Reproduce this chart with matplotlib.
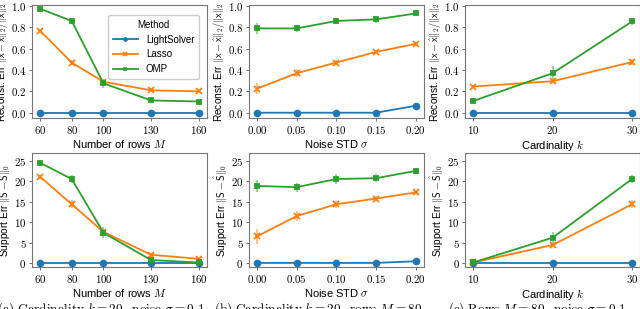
import numpy as np
import matplotlib
matplotlib.use("Agg")
import matplotlib.pyplot as plt

plt.rcParams['mathtext.fontset'] = 'cm'
plt.rcParams['font.family'] = ['Liberation Sans', 'DejaVu Sans']

methods = ['LightSolver', 'Lasso', 'OMP']
colors = ['#1f77b4', '#ff7f0e', '#2ca02c']
markers = ['o', 'x', 's']
msizes = [4.2, 4.5, 3.2]

rows_M = [60, 80, 100, 130, 160]
noise_sigma = [0.00, 0.05, 0.10, 0.15, 0.20]
card_k = [10, 20, 30]

# reconstruction error (top row)
rec_rows = {'LightSolver': [0, 0, 0, 0, 0],
            'Lasso': [0.77, 0.47, 0.29, 0.21, 0.20],
            'OMP': [0.975, 0.86, 0.275, 0.115, 0.105]}
rec_rows_err = {'LightSolver': [0, 0, 0, 0, 0],
                'Lasso': [0.01, 0.02, 0.01, 0.01, 0.01],
                'OMP': [0.005, 0.02, 0.04, 0.01, 0.005]}
rec_noise = {'LightSolver': [0, 0, 0, 0, 0.065],
             'Lasso': [0.225, 0.37, 0.47, 0.57, 0.645],
             'OMP': [0.79, 0.79, 0.86, 0.875, 0.93]}
rec_noise_err = {'LightSolver': [0, 0, 0, 0, 0.01],
                 'Lasso': [0.05, 0.035, 0.025, 0.015, 0.01],
                 'OMP': [0.05, 0.03, 0.025, 0.03, 0.008]}
rec_card = {'LightSolver': [0, 0, 0],
            'Lasso': [0.245, 0.295, 0.475],
            'OMP': [0.11, 0.37, 0.855]}
rec_card_err = {'LightSolver': [0, 0, 0],
                'Lasso': [0.01, 0.015, 0.025],
                'OMP': [0.01, 0.07, 0.035]}

# support error (bottom row)
sup_rows = {'LightSolver': [0, 0, 0, 0, 0],
            'Lasso': [21.2, 14.4, 7.6, 2.0, 1.0],
            'OMP': [24.6, 20.6, 7.4, 0.7, 0.1]}
sup_rows_err = {'LightSolver': [0, 0, 0, 0, 0],
                'Lasso': [0.5, 1.0, 0.7, 0.3, 0.2],
                'OMP': [0.4, 1.0, 1.3, 0.3, 0.1]}
sup_noise = {'LightSolver': [0, 0, 0, 0, 0.4],
             'Lasso': [6.5, 11.5, 14.4, 15.8, 17.3],
             'OMP': [18.9, 18.6, 20.6, 20.8, 22.6]}
sup_noise_err = {'LightSolver': [0, 0, 0, 0, 0.1],
                 'Lasso': [1.8, 1.3, 0.9, 0.7, 0.6],
                 'OMP': [1.5, 1.1, 1.2, 1.0, 0.8]}
sup_card = {'LightSolver': [0, 0, 0],
            'Lasso': [0.1, 4.4, 14.4],
            'OMP': [0.1, 6.2, 20.6]}
sup_card_err = {'LightSolver': [0, 0, 0],
                'Lasso': [0.1, 0.6, 1.0],
                'OMP': [0.1, 1.3, 1.0]}

xvals = [rows_M, noise_sigma, card_k]
xtick_labels = [['60', '80', '100', '130', '160'],
                ['0.00', '0.05', '0.10', '0.15', '0.20'],
                ['10', '20', '30']]
xlabels = [r'Number of rows $M$', r'Noise STD $\sigma$', r'Cardinality $k$']
top_data = [(rec_rows, rec_rows_err), (rec_noise, rec_noise_err), (rec_card, rec_card_err)]
bot_data = [(sup_rows, sup_rows_err), (sup_noise, sup_noise_err), (sup_card, sup_card_err)]
captions = [r'$\mathrm{(a)\ Cardinality}\ k=20,\ \mathrm{noise}\ \sigma=0.1$',
            r'$\mathrm{(b)\ Cardinality}\ k=20,\ \mathrm{rows}\ M=80$',
            r'$\mathrm{(c)\ Rows}\ M=80,\ \mathrm{noise}\ \sigma=0.1$']
caption_x = [0.158, 0.497, 0.84]

fig = plt.figure(figsize=(6.4, 3.09), dpi=100)
lefts = [0.050, 0.389, 0.727]
width = 0.273

for col in range(3):
    for row in range(2):
        if row == 0:
            ax = fig.add_axes([lefts[col], 0.618, width, 0.366])
            vals, errs = top_data[col]
        else:
            ax = fig.add_axes([lefts[col], 0.136, width, 0.369])
            vals, errs = bot_data[col]
        for m, c, mk, ms in zip(methods, colors, markers, msizes):
            ax.plot(xvals[col], vals[m], color=c, marker=mk, markersize=ms,
                    markeredgewidth=1.3, linewidth=1.3, label=m, zorder=3)
            ax.errorbar(xvals[col], vals[m], yerr=errs[m], fmt='none',
                        ecolor=c, alpha=0.5, elinewidth=1.3, zorder=2)
        ax.set_xticks(xvals[col], ['$%s$' % s for s in xtick_labels[col]])
        ax.set_xlabel(xlabels[col], fontsize=8, labelpad=1.5)
        if row == 0:
            ax.set_ylim(-0.05, 1.01)
            yt = [0.0, 0.2, 0.4, 0.6, 0.8, 1.0]
            ax.set_yticks(yt, ['$%.1f$' % v for v in yt])
            ax.set_ylabel(r'Reconst. Err $\|\mathsf{x}-\hat{\mathsf{x}}\|_2/\|\mathsf{x}\|_2$',
                          fontsize=7.3, labelpad=1)
        else:
            ax.set_ylim(-1, 27)
            yt = [0, 5, 10, 15, 20, 25]
            ax.set_yticks(yt, ['$%d$' % v for v in yt])
            ax.set_ylabel(r'Support Err $\|\mathsf{S}-\hat{\mathsf{S}}\|_0$',
                          fontsize=7.3, labelpad=1)
        ax.tick_params(labelsize=7.8, length=2.5, width=0.6, pad=1.5, color='#555555')
        for sp in ax.spines.values():
            sp.set_color('#777777')
            sp.set_linewidth(0.8)
        if row == 0 and col == 0:
            leg = ax.legend(title='Method', fontsize=7, title_fontsize=7,
                            loc='upper right', bbox_to_anchor=(0.985, 0.955),
                            framealpha=1, edgecolor='#cccccc', handlelength=2.6,
                            markerscale=0.5, borderpad=0.5, labelspacing=0.5,
                            handletextpad=0.8)
    fig.text(caption_x[col], -0.013, captions[col],
             fontsize=9.5, ha='center', va='baseline')

fig.savefig('out.png', dpi=100)
